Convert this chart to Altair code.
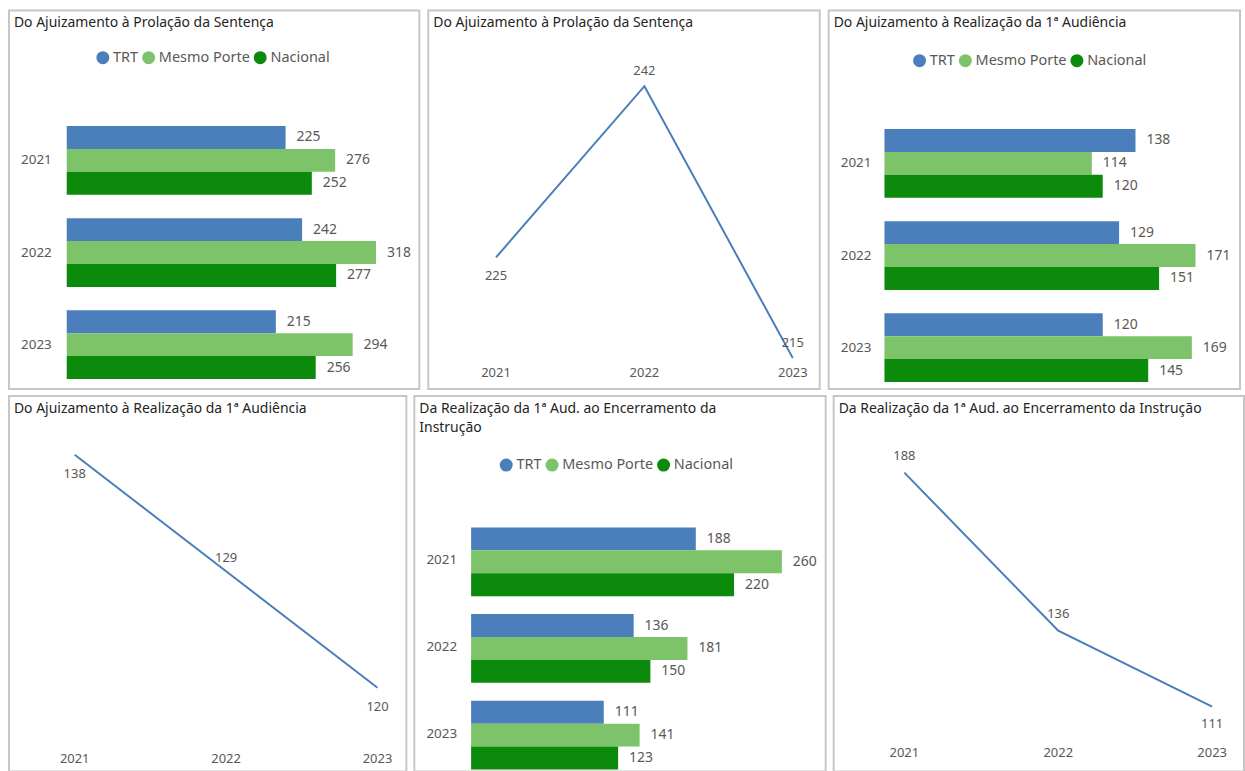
import altair as alt
import pandas as pd

years = ["2021", "2022", "2023"]
series = ["TRT", "Mesmo Porte", "Nacional"]

# Do Ajuizamento à Prolação da Sentença
sent_trt = [225, 242, 215]
sent_porte = [276, 318, 294]
sent_nac = [252, 277, 256]

# Do Ajuizamento à Realização da 1ª Audiência
aud_trt = [138, 129, 120]
aud_porte = [114, 171, 169]
aud_nac = [120, 151, 145]

# Da Realização da 1ª Aud. ao Encerramento da Instrução
instr_trt = [188, 136, 111]
instr_porte = [260, 181, 141]
instr_nac = [220, 150, 123]

title_sent = "Do Ajuizamento à Prolação da Sentença"
title_aud = "Do Ajuizamento à Realização da 1ª Audiência"
title_instr = "Da Realização da 1ª Aud. ao Encerramento da Instrução"
title_instr_wrapped = "Da Realização da 1ª Aud. ao Encerramento da\nInstrução"

colors = ["#4a7fbb", "#7cc36a", "#0c8a0c"]
LINE = "#4a7ebb"
TXT = "#5a5856"
TITLE_C = "#252423"
FONT = "Noto Sans"


def title_layer(text):
    tdf = pd.DataFrame({"t": [text]})
    return alt.Chart(tdf).mark_text(
        align="left", baseline="alphabetic", lineBreak="\n", lineHeight=19,
        font=FONT, fontSize=14, color=TITLE_C
    ).encode(x=alt.value(5), y=alt.value(17), text="t:N")


def bar_panel(trt, porte, nac, title, w, h, xmax, xrange, yrange, pad_inner, lx, ly):
    df = pd.DataFrame({
        "year": years * 3,
        "series": [s for s in series for _ in years],
        "value": trt + porte + nac,
    })
    ydf = pd.DataFrame({"year": years})
    y = alt.Y("year:N", axis=None, sort=years,
              scale=alt.Scale(range=yrange, paddingInner=pad_inner, paddingOuter=0))
    x = alt.X("value:Q", axis=None,
              scale=alt.Scale(domain=[0, xmax], range=xrange, nice=False, zero=True))
    yoff = alt.YOffset("series:N", sort=series,
                       scale=alt.Scale(domain=series, paddingInner=0, paddingOuter=0))
    color = alt.Color("series:N", sort=series,
                      scale=alt.Scale(domain=series, range=colors),
                      legend=alt.Legend(title=None, orient="none", legendX=lx, legendY=ly,
                                        direction="horizontal", symbolType="circle",
                                        symbolSize=170, symbolStrokeWidth=0,
                                        labelFont=FONT, labelFontSize=14.5,
                                        labelColor=TXT, columnPadding=3, labelOffset=3))
    bars = alt.Chart(df).mark_bar().encode(x=x, y=y, yOffset=yoff, color=color)
    labels = alt.Chart(df).mark_text(align="left", baseline="middle", dx=11, font=FONT,
                                     fontSize=14, color=TXT).encode(
        x=x, y=y, yOffset=yoff, text="value:Q")
    ylabels = alt.Chart(ydf).mark_text(align="right", baseline="middle", font=FONT,
                                       fontSize=13.5, color=TXT).encode(
        y=y, x=alt.value(43), text="year:N")
    return alt.layer(bars, labels, ylabels, title_layer(title)).properties(
        width=w, height=h)


def line_panel(vals, title, w, h, xrange, ydomain, yrange, below_years,
               dy_above, dy_below, year_y):
    df = pd.DataFrame({"year": years, "value": vals})
    x = alt.X("year:N", axis=None, sort=years,
              scale=alt.Scale(type="point", range=xrange, padding=0))
    y = alt.Y("value:Q", axis=None,
              scale=alt.Scale(domain=ydomain, range=yrange, nice=False, zero=False))
    base = alt.Chart(df)
    line = base.mark_line(color=LINE, strokeWidth=2).encode(x=x, y=y)
    above = base.transform_filter(
        ~alt.FieldOneOfPredicate(field="year", oneOf=below_years)
    ).mark_text(baseline="middle", dy=dy_above, font=FONT, fontSize=13,
                color=TXT).encode(x=x, y=y, text="value:Q")
    below = base.transform_filter(
        alt.FieldOneOfPredicate(field="year", oneOf=below_years)
    ).mark_text(baseline="middle", dy=dy_below, font=FONT, fontSize=13,
                color=TXT).encode(x=x, y=y, text="value:Q")
    ylab = base.mark_text(baseline="middle", font=FONT, fontSize=13, color=TXT).encode(
        x=x, y=alt.value(year_y), text="year:N")
    return alt.layer(line, above, below, ylab, title_layer(title)).properties(
        width=w, height=h)


p1 = bar_panel(sent_trt, sent_porte, sent_nac, title_sent, 412, 380,
               340, [58, 390], [116, 370], 0.254, 87, 40)
p2 = line_panel(sent_trt, title_sent, 393, 380, [68, 366], [215, 242], [349, 76],
                ["2021"], -15, 19, 364)
p3 = bar_panel(aud_trt, aud_porte, aud_nac, title_aud, 413, 380,
               190, [56, 403], [119, 373], 0.254, 84, 43)
p4 = line_panel(aud_trt, title_aud, 399, 377, [66, 370], [120, 138], [293, 59],
                ["2021", "2023"], -13, 19, 365)
p5 = bar_panel(instr_trt, instr_porte, instr_nac, title_instr_wrapped, 413, 377,
               290, [57, 405], [132, 372], 0.241, 85, 62)
p6 = line_panel(instr_trt, title_instr, 412, 377, [71, 380], [111, 188], [312, 77],
                ["2023"], -17, 17, 358)

row1 = alt.hconcat(p1, p2, p3, spacing=7).resolve_scale(color="independent")
row2 = alt.hconcat(p4, p5, p6, spacing=6).resolve_scale(color="independent")

chart = alt.vconcat(row1, row2, spacing=5).resolve_scale(
    color="independent"
).properties(
    padding={"left": 8, "top": 8, "right": 0, "bottom": 0},
    background="white",
).configure_view(
    stroke="#c6c6c6", strokeWidth=2
)

chart.save("out.html", embed_options={"renderer": "svg", "actions": False})
